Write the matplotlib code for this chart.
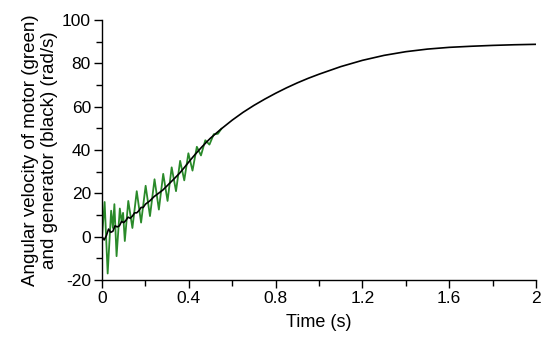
import numpy as np
import matplotlib
matplotlib.use("Agg")
import matplotlib.pyplot as plt
from matplotlib.ticker import MultipleLocator

# generator speed (black)
black_t = [0, 0.01, 0.02, 0.03, 0.04, 0.05, 0.06, 0.07, 0.08, 0.09, 0.10,
           0.11, 0.12, 0.13, 0.14, 0.15, 0.16, 0.17, 0.18, 0.19, 0.20,
           0.22, 0.24, 0.26, 0.28, 0.30, 0.32, 0.34, 0.36, 0.38, 0.40,
           0.42, 0.44, 0.46, 0.48, 0.50, 0.55, 0.60, 0.65, 0.70, 0.75,
           0.80, 0.85, 0.90, 0.95, 1.0, 1.1, 1.2, 1.3, 1.4, 1.5, 1.6, 1.7, 1.8, 1.9, 2.0]
black_v = [0, -1.5, 0.5, 3.5, 2.0, 2.5, 5.0, 4.5, 5.0, 7.0, 6.5,
           7.5, 9.0, 8.5, 9.5, 11.0, 11.0, 12.0, 13.5, 13.5, 15.0,
           16.5, 18.5, 20.0, 21.5, 23.5, 25.5, 27.5, 29.6, 32.0, 34.5,
           36.9, 39.2, 41.4, 43.5, 45.5, 49.8, 53.8, 57.4, 60.6, 63.5,
           66.2, 68.7, 71.0, 73.1, 75.0, 78.5, 81.4, 83.7, 85.4, 86.6, 87.4, 87.9, 88.3, 88.6, 88.8]

# motor speed (green), peaks and troughs of the oscillation
green_t = [0, 0.012, 0.026, 0.042, 0.050, 0.057, 0.067, 0.082, 0.090, 0.097,
           0.105, 0.121, 0.140, 0.160, 0.180, 0.201, 0.221, 0.242, 0.262, 0.282,
           0.302, 0.321, 0.341, 0.360, 0.379, 0.398, 0.417, 0.437, 0.456, 0.476,
           0.495, 0.515, 0.534, 0.550]
green_v = [0, 16, -17, 12, 4, 15, -9, 13, 7, 11,
           -2, 16.5, 4, 21, 6.5, 23.5, 9.5, 26.5, 12.5, 29,
           16.5, 32, 21, 35, 26, 38.5, 30.5, 41.5, 37.5, 44.5,
           42.5, 47.3, 47.5, 49.8]

xticks = [0, 0.4, 0.8, 1.2, 1.6, 2]
xlabels = ["0", "0.4", "0.8", "1.2", "1.6", "2"]
yticks = [-20, 0, 20, 40, 60, 80, 100]

plt.rcParams['font.family'] = ['Liberation Sans', 'DejaVu Sans']
plt.rcParams['axes.unicode_minus'] = False

fig = plt.figure(figsize=(5.5, 3.4), dpi=100)
ax = fig.add_axes([0.1855, 0.1765, 0.789, 0.7645])

ax.plot(green_t, green_v, color='#2a8a2a', lw=1.3)
ax.plot(black_t, black_v, color='black', lw=1.2)

ax.set_xlim(0, 2)
ax.set_ylim(-20, 100)
ax.set_xticks(xticks)
ax.set_xticklabels(xlabels)
ax.set_yticks(yticks)
ax.xaxis.set_minor_locator(MultipleLocator(0.2))
ax.yaxis.set_minor_locator(MultipleLocator(10))

for s in ['top', 'right']:
    ax.spines[s].set_visible(False)
for s in ['left', 'bottom']:
    ax.spines[s].set_linewidth(1.0)
ax.tick_params(which='major', direction='out', length=6, width=1.0, labelsize=12.5, pad=2)
ax.tick_params(which='minor', direction='out', length=4, width=1.0)

ax.set_xlabel("Time (s)", fontsize=13, labelpad=6)
ax.set_ylabel("Angular velocity of motor (green)\nand generator (black) (rad/s)",
              fontsize=13.5, labelpad=3, linespacing=1.1)

fig.savefig("out.png", dpi=100)
